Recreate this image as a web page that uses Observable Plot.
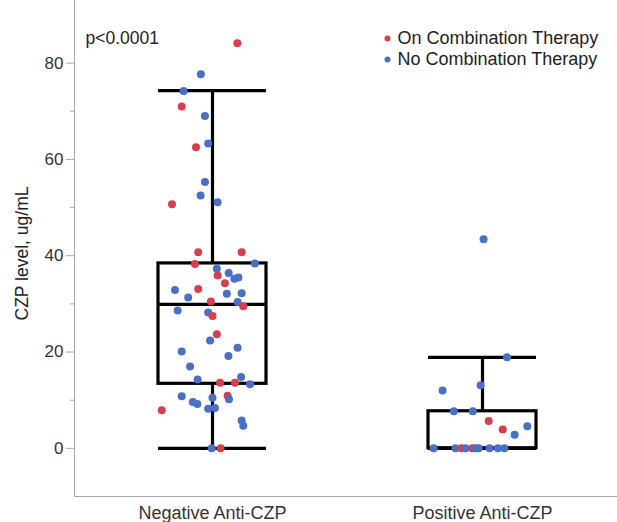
<!DOCTYPE html>
<html>
<head>
<meta charset="utf-8">
<script src="https://cdn.jsdelivr.net/npm/d3@7"></script>
<script src="https://cdn.jsdelivr.net/npm/@observablehq/plot@0.6"></script>
<style>
  html, body { margin: 0; padding: 0; background: #fff; }
  #chart svg { display: block; }
</style>
</head>
<body>
<div id="chart"></div>
<script>
// ---------- data ----------
const categories = ["Negative Anti-CZP", "Positive Anti-CZP"];
const seriesNames = ["On Combination Therapy", "No Combination Therapy"];
const seriesKeys = ["On", "No"];
const yTicks = [0, 20, 40, 60, 80];
const yMinorTicks = [10, 30, 50, 70];
const yLabel = "CZP level, ug/mL";
const pValueText = "p<0.0001";

// Negative Anti-CZP group: value, therapy, horizontal jitter (fraction of group width)
const negValues = [84.1, 77.7, 74.2, 71.0, 69.0, 63.3, 62.5, 55.3, 52.5, 51.1,
  50.7, 40.7, 40.7, 38.3, 38.4, 37.3, 35.9, 36.4, 35.2, 35.5,
  34.3, 32.9, 33.1, 32.1, 32.2, 31.3, 30.5, 30.4, 29.5, 28.6,
  28.2, 27.5, 23.7, 22.4, 20.9, 20.1, 19.2, 17.0, 14.8, 14.3,
  13.6, 13.6, 13.3, 10.8, 10.9, 10.5, 10.2, 9.6, 9.2, 8.2,
  8.4, 7.9, 5.8, 4.7, 0, 0];
const negTherapy = ["On", "No", "No", "On", "No", "No", "On", "No", "No", "No",
  "On", "On", "On", "On", "No", "No", "On", "No", "No", "No",
  "On", "No", "On", "No", "No", "No", "On", "No", "On", "No",
  "No", "On", "On", "No", "No", "No", "No", "No", "No", "No",
  "On", "On", "No", "No", "On", "No", "No", "No", "No", "No",
  "No", "On", "No", "No", "No", "On"];
const negJitter = [0.092, -0.043, -0.107, -0.114, -0.028, -0.016, -0.061, -0.028, -0.044, 0.019,
  -0.150, -0.053, 0.108, -0.065, 0.157, 0.016, 0.019, 0.060, 0.081, 0.096,
  0.046, -0.139, -0.053, 0.053, 0.108, -0.090, -0.006, 0.093, 0.114, -0.129,
  -0.016, 0.000, 0.016, -0.009, 0.093, -0.114, 0.059, -0.083, 0.106, -0.055,
  0.028, 0.083, 0.139, -0.114, 0.056, 0.000, 0.061, -0.073, -0.056, -0.016,
  0.009, -0.188, 0.108, 0.114, -0.003, 0.030];

// Positive Anti-CZP group
const posValues = [43.4, 18.9, 13.1, 12.0, 7.7, 7.7, 5.7, 3.9, 4.6, 2.8,
  0, 0, 0, 0, 0, 0, 0, 0, 0, 0];
const posTherapy = ["No", "No", "No", "No", "No", "No", "On", "On", "No", "No",
  "No", "No", "On", "No", "On", "No", "No", "No", "No", "No"];
const posJitter = [0.004, 0.091, -0.007, -0.148, -0.106, -0.036, 0.023, 0.075, 0.166, 0.119,
  -0.181, -0.100, -0.078, -0.063, -0.038, -0.026, -0.014, 0.026, 0.057, 0.081];

// Box plot summary per group (as drawn in the reference)
const boxLow = [0, 0];
const boxQ1 = [13.4, 0];
const boxMedian = [29.9, 0];
const boxQ3 = [38.4, 7.7];
const boxHigh = [74.3, 18.9];

// ---------- build tables ----------
const points = [
  ...negValues.map((v, i) => ({g: 0, v, t: negTherapy[i], j: negJitter[i]})),
  ...posValues.map((v, i) => ({g: 1, v, t: posTherapy[i], j: posJitter[i]}))
];
const boxes = categories.map((c, i) => ({
  i, lo: boxLow[i], q1: boxQ1[i], med: boxMedian[i], q3: boxQ3[i], hi: boxHigh[i]
}));

const RED = "#d6404e";
const BLUE = "#4a6fc6";
const FONT = "'Liberation Sans', Arial, sans-serif";
const half = 0.2;
const lineStyle = {stroke: "black", strokeWidth: 3.2};

const legendMarks = seriesNames.flatMap((name, i) => [
  Plot.dot([name], {frameAnchor: "top-left", dx: 387 - 74, dy: 38 + i * 21, r: 3,
    fill: i === 0 ? RED : BLUE}),
  Plot.text([name], {frameAnchor: "top-left", dx: 397 - 74, dy: 38 + i * 21,
    textAnchor: "start", lineAnchor: "middle", fontSize: 18, fill: "#222"})
]);

const chart = Plot.plot({
  width: 617,
  height: 522,
  marginLeft: 74,
  marginRight: 0,
  marginTop: 0,
  marginBottom: 26,
  style: {fontFamily: FONT, background: "#fff"},
  x: {domain: [-0.5, 1.5], range: [77, 617], label: null},
  y: {domain: [-10, 93], label: null},
  color: {domain: seriesKeys, range: [RED, BLUE]},
  marks: [
    Plot.frame({anchor: "left", stroke: "#a8a8a8"}),
    Plot.frame({anchor: "bottom", stroke: "#a8a8a8"}),
    Plot.axisY(yTicks, {tickSize: 8, tickPadding: 3, fontSize: 17, stroke: "#a8a8a8", fill: "#333", label: null}),
    Plot.axisY(yMinorTicks, {tickSize: 4, tickFormat: () => "", stroke: "#a8a8a8", label: null}),
    Plot.axisX([0, 1], {tickSize: 0, tickPadding: 10, fontSize: 18, fill: "#333",
      tickFormat: (i) => categories[i], label: null}),
    Plot.text([yLabel], {frameAnchor: "left", textAnchor: "middle", lineAnchor: "middle",
      rotate: -90, dx: -52, dy: 5, fontSize: 17.5, fill: "#222"}),
    // box plot
    Plot.ruleX(boxes, {x: "i", y1: "q3", y2: "hi", ...lineStyle}),
    Plot.ruleX(boxes, {x: "i", y1: "lo", y2: "q1", ...lineStyle}),
    Plot.rect(boxes, {x1: (d) => d.i - half, x2: (d) => d.i + half, y1: "q1", y2: "q3", fill: "none", ...lineStyle}),
    Plot.ruleY(boxes, {x1: (d) => d.i - half, x2: (d) => d.i + half, y: "med", ...lineStyle}),
    Plot.ruleY(boxes, {x1: (d) => d.i - half, x2: (d) => d.i + half, y: "hi", ...lineStyle}),
    Plot.ruleY(boxes, {x1: (d) => d.i - half, x2: (d) => d.i + half, y: "lo", ...lineStyle}),
    // points
    Plot.dot(points, {x: (d) => d.g + d.j, y: "v", r: 4, fill: "t", stroke: null}),
    // p value
    Plot.text([pValueText], {frameAnchor: "top-left", dx: 11, dy: 31, textAnchor: "start",
      lineAnchor: "top", fontSize: 17.5, fill: "#222"}),
    ...legendMarks
  ]
});
document.getElementById("chart").appendChild(chart);
</script>
</body>
</html>
